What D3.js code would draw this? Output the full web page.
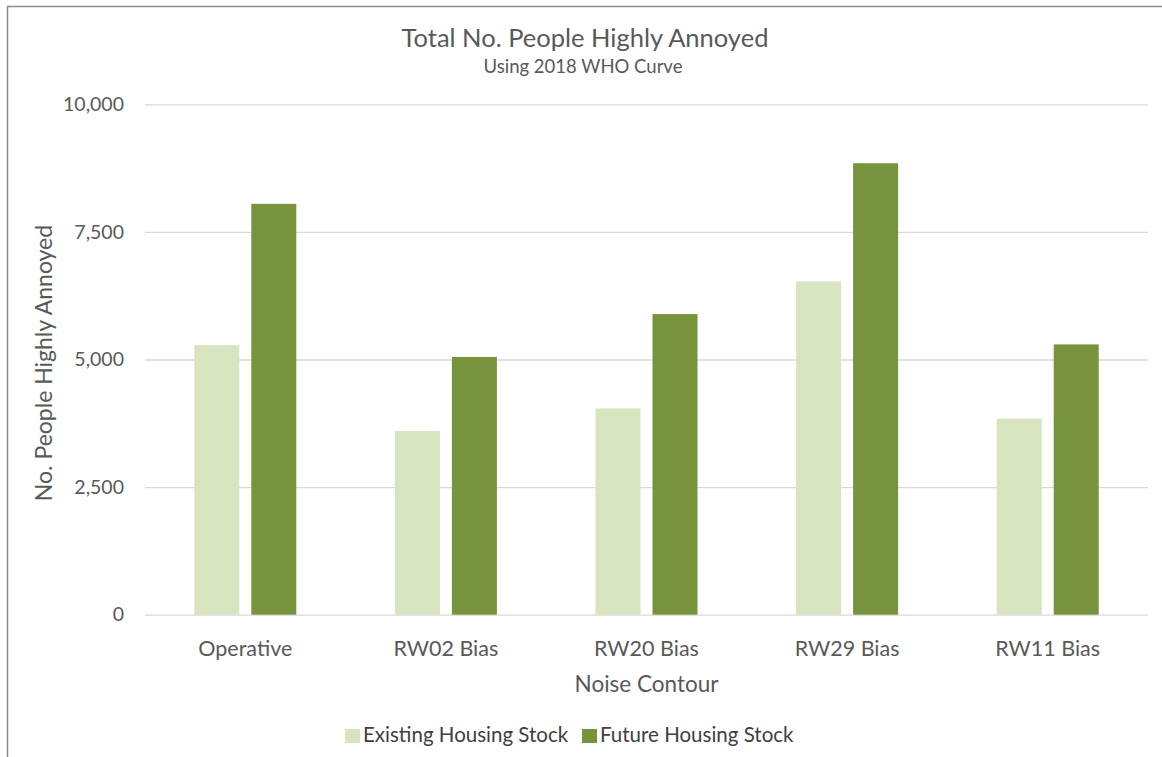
<!DOCTYPE html>
<html>
<head>
<meta charset="utf-8">
<script src="https://cdn.jsdelivr.net/npm/d3@7"></script>
<style>
  body { margin: 0; background: #fff; }
  svg { display: block; font-family: Lato, "Open Sans", sans-serif; }
  .axis text { fill: #595959; }
</style>
</head>
<body>
<script>
(function () {
  'use strict'

  var categories = ['Operative', 'RW02 Bias', 'RW20 Bias', 'RW29 Bias', 'RW11 Bias']
  var seriesNames = ['Existing Housing Stock', 'Future Housing Stock']
  var existing = [5280, 3600, 4040, 6530, 3840]
  var future = [8050, 5050, 5890, 8845, 5295]
  var yTicks = [0, 2500, 5000, 7500, 10000]
  var colors = ['#d7e4bd', '#77933c']

  var font = 'Lato, "Open Sans", sans-serif'
  var dim = { w: 1162, h: 757 }
  var plot = { left: 145, right: 1148, top: 104.3, bottom: 614.7 }

  var svg = d3.select('body').append('svg')
    .attr('width', dim.w)
    .attr('height', dim.h)

  // Frame (only top and left edges visible)
  svg.append('path')
    .attr('d', 'M7.5,757V6.5H1162')
    .attr('fill', 'none')
    .attr('stroke', '#8c8c8c')
    .attr('stroke-width', 1.5)

  var x0 = d3.scaleBand().domain(categories).range([plot.left, plot.right])
  var bw = x0.bandwidth()
  var x1 = d3.scaleBand().domain(seriesNames)
    .range([bw / 2 - 51, bw / 2 + 51])
    .paddingInner(0.2105)
  var y = d3.scaleLinear().domain([0, 10000]).range([plot.bottom, plot.top])

  // Gridlines + y labels
  var yAxis = d3.axisLeft(y).tickValues(yTicks)
    .tickFormat(d3.format(','))
    .tickSize(-(plot.right - plot.left))
    .tickPadding(21)
  var gy = svg.append('g')
    .attr('class', 'axis')
    .attr('transform', 'translate(' + plot.left + ',0)')
    .call(yAxis)
    .attr('font-family', font)
    .attr('font-size', 19.5)
  gy.select('.domain').remove()
  gy.selectAll('line').attr('stroke', '#d9d9d9').attr('stroke-width', 1.3)

  // x labels
  var gx = svg.append('g')
    .attr('class', 'axis')
    .attr('transform', 'translate(0,' + plot.bottom + ')')
    .call(d3.axisBottom(x0).tickSize(0).tickPadding(26))
    .attr('font-family', font)
    .attr('font-size', 21.5)
  gx.select('.domain').remove()

  // Bars
  var data = categories.map(function (c, i) {
    return { cat: c, vals: [existing[i], future[i]] }
  })
  var groups = svg.append('g').selectAll('g')
    .data(data).enter().append('g')
    .attr('transform', function (d) { return 'translate(' + x0(d.cat) + ',0)' })
  groups.selectAll('rect')
    .data(function (d) {
      return d.vals.map(function (v, j) { return { name: seriesNames[j], v: v, j: j } })
    })
    .enter().append('rect')
    .attr('x', function (d) { return x1(d.name) })
    .attr('width', x1.bandwidth())
    .attr('y', function (d) { return y(d.v) })
    .attr('height', function (d) { return y(0) - y(d.v) })
    .attr('fill', function (d) { return colors[d.j] })

  // Titles
  svg.append('text')
    .attr('x', 585).attr('y', 47)
    .attr('text-anchor', 'middle')
    .attr('font-size', 25.5)
    .attr('fill', '#595959')
    .text('Total No. People Highly Annoyed')
  svg.append('text')
    .attr('x', 583).attr('y', 73)
    .attr('text-anchor', 'middle')
    .attr('font-size', 18.5)
    .attr('fill', '#595959')
    .text('Using 2018 WHO Curve')

  svg.append('text')
    .attr('x', (plot.left + plot.right) / 2).attr('y', 692)
    .attr('text-anchor', 'middle')
    .attr('font-size', 22.5)
    .attr('fill', '#595959')
    .text('Noise Contour')

  svg.append('text')
    .attr('transform', 'translate(52,363) rotate(-90)')
    .attr('text-anchor', 'middle')
    .attr('font-size', 23)
    .attr('fill', '#595959')
    .text('No. People Highly Annoyed')

  // Legend
  var legendX = [345, 582]
  var legend = svg.append('g').selectAll('g')
    .data(seriesNames).enter().append('g')
    .attr('transform', function (d, i) { return 'translate(' + legendX[i] + ',729)' })
  legend.append('rect')
    .attr('width', 15).attr('height', 14)
    .attr('fill', function (d, i) { return colors[i] })
  legend.append('text')
    .attr('x', 18).attr('y', 13)
    .attr('font-size', 20.5)
    .attr('fill', '#404040')
    .text(function (d) { return d })
}())
</script>
</body>
</html>
